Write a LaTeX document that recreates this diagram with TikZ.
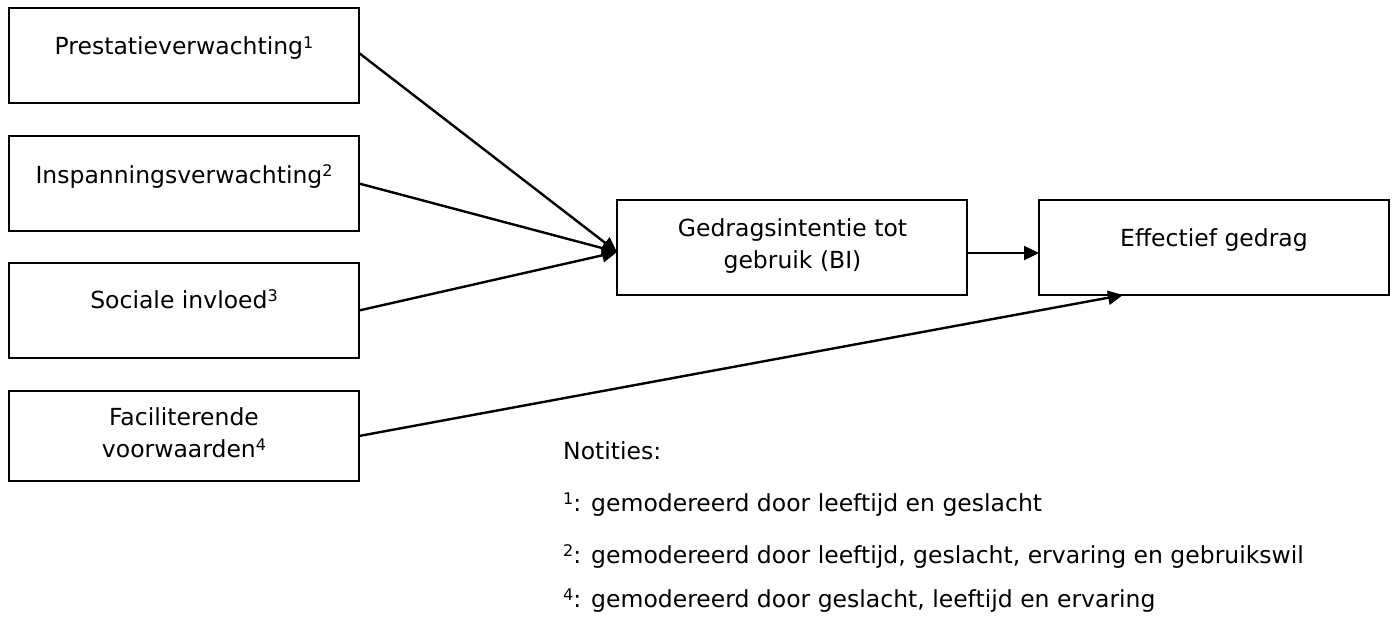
\documentclass[tikz,border=0pt]{standalone}
\usepackage{fontspec}
\setmainfont{DejaVu Sans}
\usetikzlibrary{arrows.meta}
% raised footnote-style number
\newcommand\supnum[1]{\raisebox{6.5pt}{\fontsize{16}{16}\selectfont #1}}
\begin{document}
\begin{tikzpicture}[x=1pt,y=-1pt,
  box/.style={draw=black, line width=2.4pt, rectangle, minimum width=350pt,
    minimum height=95pt, inner sep=0pt, outer sep=0pt, anchor=north west},
  lbl/.style={font=\fontsize{23.5}{32}\selectfont, inner sep=0pt, anchor=base, align=center},
  note/.style={font=\fontsize{23.5}{32}\selectfont, inner sep=0pt, anchor=base west},
  link/.style={line width=2.4pt, -{Triangle[length=15pt,width=14pt]}}]
\useasboundingbox (0,0) rectangle (1397,623);

% boxes
\node[box] (b1) at (9,8) {};
\node[box] (b2) at (9,136) {};
\node[box] (b3) at (9,263) {};
\node[box, minimum height=90pt] (b4) at (9,391) {};
\node[box] (bi) at (617,200) {};
\node[box] (eff) at (1039,200) {};

% box texts (base = baseline of the last line)
\node[lbl] (t1) at (184,55) {Prestatieverwachting\supnum{1}};
\node[lbl] (t2) at (184,183) {Inspanningsverwachting\supnum{2}};
\node[lbl] (t3) at (184,308) {Sociale invloed\supnum{3}};
\node[lbl] (t4) at (184,457) {Faciliterende\\voorwaarden\supnum{4}};
\node[lbl] (tbi) at (792.5,268) {Gedragsintentie tot\\gebruik (BI)};
\node[lbl] (teff) at (1214,246) {Effectief gedrag};

% connectors
\draw[link] ([yshift=2.5pt]b1.east) -- ([yshift=-4.5pt]bi.west);
\draw[link] (b2.east) -- ([yshift=-4.5pt]bi.west);
\draw[link] (b3.east) -- ([yshift=-4.5pt]bi.west);
\draw[link] ([yshift=-5.5pt]bi.east) -- ([yshift=-5.5pt]eff.west);
\draw[link] (b4.east) -- ([xshift=-91pt]eff.south);

% notes
\node[note] (n0) at (563,459) {Notities:};
\node[note] (n1) at (563,511) {\supnum{1}: gemodereerd door leeftijd en geslacht};
\node[note] (n2) at (563,563) {\supnum{2}: gemodereerd door leeftijd, geslacht, ervaring en gebruikswil};
\node[note] (n4) at (563,607) {\supnum{4}: gemodereerd door geslacht, leeftijd en ervaring};
\end{tikzpicture}
\end{document}
